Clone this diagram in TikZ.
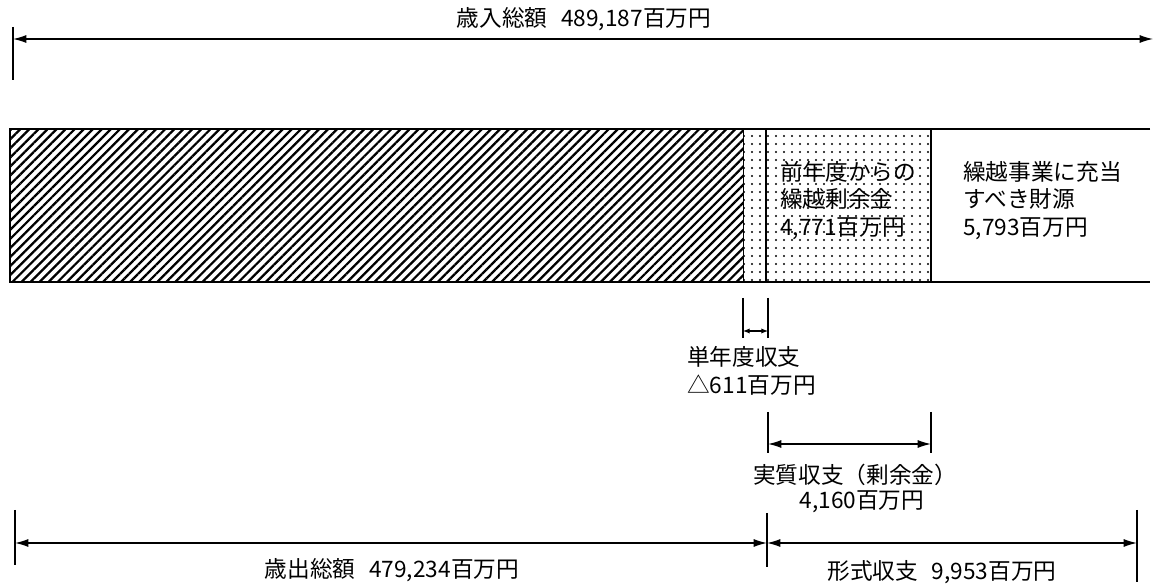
\documentclass[tikz,border=0pt]{standalone}
\usepackage{fontspec}
\setmainfont{Noto Sans CJK JP}
\usetikzlibrary{arrows.meta,patterns.meta}
\begin{document}
\begin{tikzpicture}[x=0.75pt,y=-0.75pt,
  lbl/.style={inner sep=0pt, font=\fontsize{17pt}{20pt}\selectfont},
  dim/.style={line width=0.9pt, {Latex[length=10pt,width=6pt]}-{Latex[length=10pt,width=6pt]}},
  sdim/.style={line width=0.9pt, {Latex[length=5pt,width=4pt]}-{Latex[length=5pt,width=4pt]}},
  tickline/.style={line width=1.1pt},
  barline/.style={line width=1.6pt}]
\useasboundingbox (0,0) rectangle (1154,584);

% bar
\fill[pattern={Lines[angle=45,distance=4.8pt,line width=1.7pt]}] (10,129) rectangle (743,282);
\fill[pattern={Dots[distance=6pt,radius=0.8pt]}] (743,129) rectangle (931,282);
\draw[line width=0.6pt] (743,129) -- (743,282);
\draw[barline] (1150,129) -- (10,129) -- (10,282) -- (1150,282);
\draw[barline] (766,129) -- (766,282);
\draw[barline] (931,129) -- (931,282);

\node[lbl, anchor=base west] (z1) at (780,181) {前年度からの};
\node[lbl, anchor=base west] (z2) at (780,208) {繰越剰余金};
\node[lbl, anchor=base west] (z3) at (780,236) {4,771百万円};
\node[lbl, anchor=base west] (k1) at (963,181) {繰越事業に充当};
\node[lbl, anchor=base west] (k2) at (963,208) {すべき財源};
\node[lbl, anchor=base west] (k3) at (963,236) {5,793百万円};

% total revenue
\coordinate (inL) at (13,39);
\coordinate (inR) at (1153,39);
\draw[tickline] (13,27) -- (13,80);
\draw[dim] (inL) -- (inR);
\node[lbl, anchor=base] (inT) at (584,27) {歳入総額\hspace{0.6em}489,187百万円};

% single-year balance
\coordinate (sA) at (743,331);
\coordinate (sB) at (768,331);
\draw[tickline] (743,298) -- (743,338);
\draw[tickline] (768,298) -- (768,338);
\draw[sdim] (sA) -- (sB);
\node[lbl, anchor=base west] (s1) at (687,366) {単年度収支};
\node[lbl, anchor=base west] (s2) at (687,394) {△611百万円};

% real balance
\coordinate (jA) at (768,444);
\coordinate (jB) at (931,444);
\draw[tickline] (768,412) -- (768,453);
\draw[tickline] (931,412) -- (931,453);
\draw[dim] (jA) -- (jB);
\node[lbl, anchor=base] (j1) at (855,484) {実質収支（剰余金）};
\node[lbl, anchor=base] (j2) at (862,509) {4,160百万円};

% total expenditure / formal balance
\coordinate (oL) at (15,543);
\coordinate (oM) at (767,543);
\coordinate (oR) at (1137,543);
\draw[tickline] (15,510) -- (15,565);
\draw[tickline] (767,513) -- (767,567);
\draw[tickline] (1137,510) -- (1137,582);
\draw[dim] (oL) -- (oM);
\draw[dim] (oM) -- (oR);
\node[lbl, anchor=base] (oT) at (392,578) {歳出総額\hspace{0.6em}479,234百万円};
\node[lbl, anchor=base] (fT) at (942,580) {形式収支\hspace{0.6em}9,953百万円};
\end{tikzpicture}
\end{document}
